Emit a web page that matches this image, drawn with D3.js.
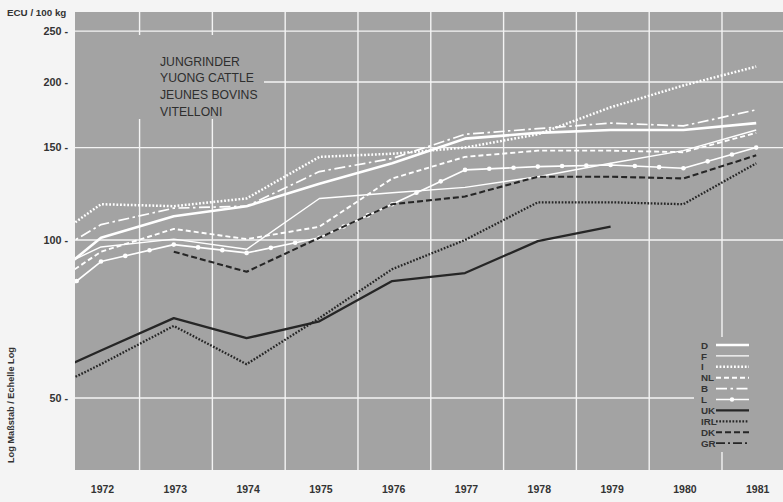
<!DOCTYPE html>
<html>
<head>
<meta charset="utf-8">
<script src="https://cdn.jsdelivr.net/npm/d3@7"></script>
<style>
  body { margin: 0; background: #f4f4f4; }
  text { font-family: "Liberation Sans", Arial, Helvetica, sans-serif; }
</style>
</head>
<body>
<svg id="chart" width="783" height="502"></svg>
<script>
// years (1971 value only sets where the line enters the plot at the left edge)
const years = [1971, 1972, 1973, 1974, 1975, 1976, 1977, 1978, 1979, 1980, 1981];
const yearLabels = [1972, 1973, 1974, 1975, 1976, 1977, 1978, 1979, 1980, 1981];
const yTicks = [50, 100, 150, 200, 250];

// ECU / 100 kg
const valD   = [77.8, 101, 111, 116, 128, 140, 156, 160, 162, 162, 167];
const valF   = [83.5, 97, 100.4, 96, 120, 123, 126, 132, 140, 148, 162];
const valI   = [93.5, 117, 116, 120, 144, 146, 150, 159, 179, 197, 214];
const valNL  = [76.7, 95, 105, 100.4, 106, 131, 144, 148, 148, 147, 160];
const valB   = [88.5, 107, 115, 116, 135, 143, 159, 163, 167, 165, 177];
const valL   = [70.4, 91, 98, 94.5, 101, 117, 136, 138, 139, 137, 150];
const valUK  = [53.3, 61.6, 71, 65, 70, 83.5, 86.5, 99.5, 106, null, null];
const valIRL = [49.5, 58, 68.6, 58, 71, 88, 100, 118, 118, 117, 140];
const valDK  = [null, null, 95, 87, 101, 117, 121, 132, 132, 131, 145];
const valGR  = [null, null, null, null, null, null, null, null, null, null, null];

const titleLines = ["JUNGRINDER", "YUONG CATTLE", "JEUNES BOVINS", "VITELLONI"];

const bg = "#a3a3a3";
const dark = "#262626";

// line styles per country
const series = [
  { key: "D",   values: valD,   color: "#fff", width: 2.6, dash: null },
  { key: "F",   values: valF,   color: "#fff", width: 1.4, dash: null },
  { key: "I",   values: valI,   color: "#fff", width: 2.5, dash: "1.8,1.8" },
  { key: "NL",  values: valNL,  color: "#fff", width: 1.9, dash: "5,3" },
  { key: "B",   values: valB,   color: "#fff", width: 1.7, dash: "11,3.5,2.5,3.5" },
  { key: "L",   values: valL,   color: "#fff", width: 1.6, dash: null, dots: true },
  { key: "UK",  values: valUK,  color: dark,   width: 2.3, dash: null },
  { key: "IRL", values: valIRL, color: dark,   width: 2.3, dash: "1.7,1.6" },
  { key: "DK",  values: valDK,  color: dark,   width: 2.1, dash: "6,3" },
  { key: "GR",  values: valGR,  color: dark,   width: 1.8, dash: "9,3,2,3" }
];

const svg = d3.select("#chart");
const plot = { left: 75, right: 783, top: 12, bottom: 470 };

const x = d3.scaleLinear().domain([1971.643, 1981.368]).range([plot.left, plot.right]);
const y = d3.scaleLog().domain([36.46, 271.9]).range([plot.bottom, plot.top]);

svg.append("defs").append("clipPath").attr("id", "clip")
  .append("rect")
  .attr("x", plot.left).attr("y", plot.top)
  .attr("width", plot.right - plot.left).attr("height", plot.bottom - plot.top);

// background
svg.append("rect")
  .attr("x", plot.left).attr("y", plot.top)
  .attr("width", plot.right - plot.left).attr("height", plot.bottom - plot.top)
  .attr("fill", bg);

// grid
const grid = svg.append("g").attr("clip-path", "url(#clip)");
grid.selectAll(".vg")
  .data(yearLabels.slice(0, -1))
  .enter().append("line")
  .attr("x1", d => x(d + 0.53)).attr("x2", d => x(d + 0.53))
  .attr("y1", plot.top).attr("y2", plot.bottom)
  .attr("stroke", "#f4f4f4").attr("stroke-width", 1.4);
grid.selectAll(".hg")
  .data(yTicks)
  .enter().append("line")
  .attr("x1", plot.left).attr("x2", plot.right)
  .attr("y1", d => y(d)).attr("y2", d => y(d))
  .attr("stroke", "#f4f4f4").attr("stroke-width", 1.4);

// title box hides the grid behind it
svg.append("rect").attr("x", plot.left).attr("y", 35).attr("width", 189).attr("height", 84).attr("fill", bg);
svg.append("g").selectAll("text")
  .data(titleLines)
  .enter().append("text")
  .attr("x", 160)
  .attr("y", (d, i) => 65.5 + i * 16.7)
  .attr("font-size", 12.2)
  .attr("fill", "#2e2e2e")
  .text(d => d);

// legend box
svg.append("rect").attr("x", 694).attr("y", 337).attr("width", 89).attr("height", 115).attr("fill", bg);

// lines
const line = d3.line()
  .defined(d => d.v != null)
  .x(d => x(d.year))
  .y(d => y(d.v));

const lines = svg.append("g").attr("clip-path", "url(#clip)");
series.forEach(s => {
  const pts = years.map((yr, i) => ({ year: yr, v: s.values[i] }));
  lines.append("path")
    .datum(pts)
    .attr("fill", "none")
    .attr("stroke", s.color)
    .attr("stroke-width", s.width)
    .attr("stroke-dasharray", s.dash)
    .attr("stroke-linejoin", "round")
    .attr("d", line);
  if (s.dots) {
    // small beads every third of a year along the line
    const beads = [];
    const ok = pts.filter(d => d.v != null);
    for (let i = 0; i < ok.length - 1; i++) {
      for (let k = 0; k < 3; k++) {
        const t = k / 3;
        beads.push([
          x(ok[i].year) + t * (x(ok[i + 1].year) - x(ok[i].year)),
          y(ok[i].v) + t * (y(ok[i + 1].v) - y(ok[i].v))
        ]);
      }
    }
    const last = ok[ok.length - 1];
    beads.push([x(last.year), y(last.v)]);
    lines.selectAll(".bead")
      .data(beads)
      .enter().append("circle")
      .attr("cx", d => d[0]).attr("cy", d => d[1])
      .attr("r", 2.3).attr("fill", "#fff");
  }
});

// y axis labels
svg.append("g").selectAll("text")
  .data(yTicks)
  .enter().append("text")
  .attr("x", 68)
  .attr("y", d => y(d) + 3.8)
  .attr("text-anchor", "end")
  .attr("font-size", 10.8)
  .attr("font-weight", 600)
  .attr("fill", "#333")
  .text(d => d + " -");

svg.append("text")
  .attr("x", 7).attr("y", 16)
  .attr("font-size", 9.8).attr("font-weight", 600).attr("fill", "#333")
  .text("ECU / 100 kg");

svg.append("text")
  .attr("transform", "translate(14,463) rotate(-90)")
  .attr("font-size", 9.2).attr("font-weight", 600).attr("fill", "#333")
  .text("Log Maßstab / Echelle Log");

// x axis labels
svg.append("g").selectAll("text")
  .data(yearLabels)
  .enter().append("text")
  .attr("x", d => x(d) + 1.5)
  .attr("y", 493)
  .attr("text-anchor", "middle")
  .attr("font-size", 10.5)
  .attr("font-weight", 600)
  .attr("fill", "#333")
  .text(d => d);

// legend
const leg = svg.append("g");
series.forEach((s, i) => {
  const ly = 345 + i * 10.9;
  leg.append("text")
    .attr("x", 701).attr("y", ly + 3.6)
    .attr("font-size", 9.8).attr("font-weight", 600).attr("fill", "#333")
    .text(s.key);
  leg.append("line")
    .attr("x1", 716).attr("x2", 749)
    .attr("y1", ly).attr("y2", ly)
    .attr("stroke", s.color)
    .attr("stroke-width", s.width)
    .attr("stroke-dasharray", s.dash);
  if (s.dots) {
    leg.append("circle").attr("cx", 732).attr("cy", ly).attr("r", 2.2).attr("fill", "#fff");
  }
});
</script>
</body>
</html>
